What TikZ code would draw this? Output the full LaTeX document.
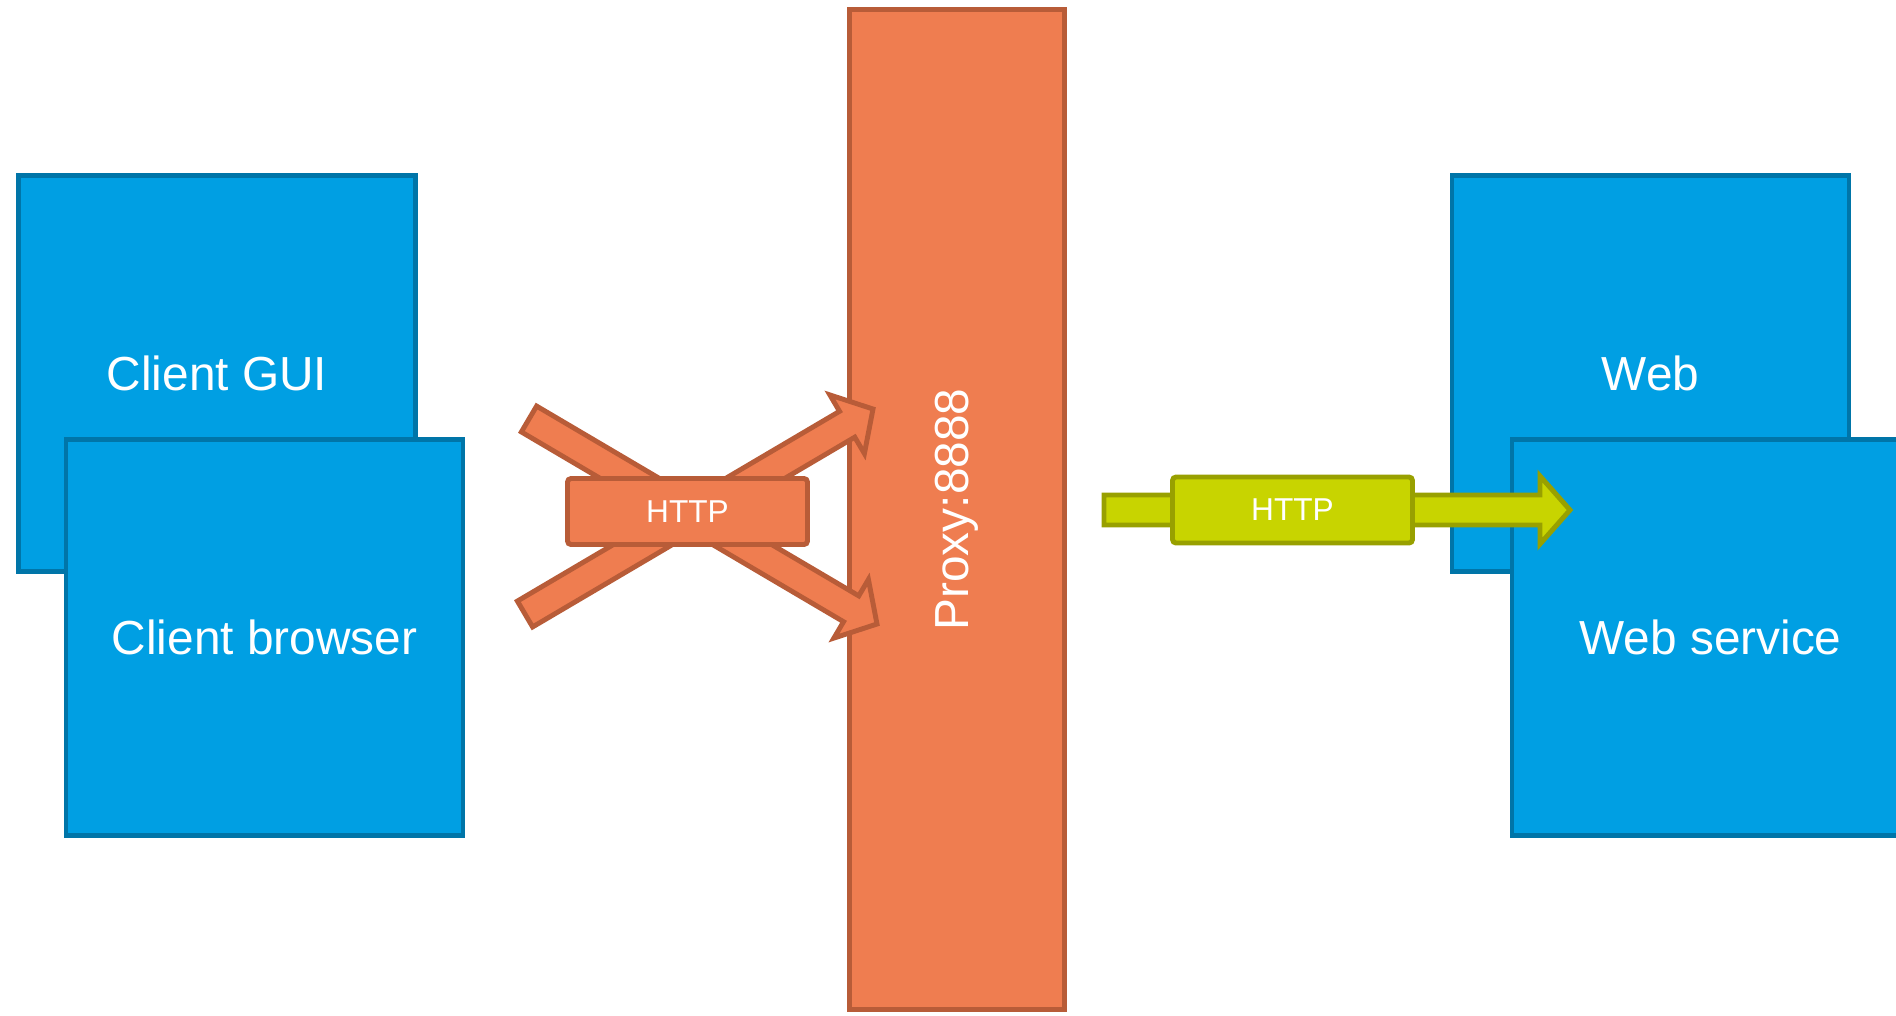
\documentclass[tikz,border=0pt]{standalone}
\usepackage{fontspec}
\setmainfont{Liberation Sans}
\usetikzlibrary{calc}
\definecolor{hostfill}{RGB}{0,159,227}
\definecolor{hostline}{RGB}{0,117,168}
\definecolor{proxyfill}{RGB}{239,125,80}
\definecolor{proxyline}{RGB}{184,92,56}
\definecolor{wirefill}{RGB}{200,212,0}
\definecolor{wireline}{RGB}{152,160,0}
\tikzset{host/.style={draw=hostline,fill=hostfill,line width=1.4pt,minimum width=3.97cm,minimum height=3.96cm,inner sep=0pt,text=white,font=\fontsize{13.6}{16}\selectfont},
	proxy box/.style={draw=proxyline,fill=proxyfill,line width=1.4pt,inner sep=0pt,text=white,font=\fontsize{13.6}{16}\selectfont},
	wire label/.style={line width=1.4pt,rounded corners=1pt,minimum width=2.4cm,minimum height=0.66cm,inner sep=0pt,text=white,font=\fontsize{9}{11}\selectfont},
	orange arrow/.style={draw=proxyline,fill=proxyfill,line width=1.4pt},
	green arrow/.style={draw=wireline,fill=wirefill,line width=1.4pt}}

% block arrow: style, tail, tip
\newcommand\blockarrow[3]{%
	\coordinate (h) at ($(#3)!\headl!(#2)$);
	\draw[#1] ($(#2)!\shaftw!90:(#3)$) -- ($(h)!\shaftw!90:(#3)$) -- ($(h)!\headw!90:(#3)$) -- (#3)
		-- ($(h)!\headw!-90:(#3)$) -- ($(h)!\shaftw!-90:(#3)$) -- ($(#2)!\shaftw!-90:(#3)$) -- cycle;
}

\begin{document}
\begin{tikzpicture}
			\def\shaftw{0.15cm}
			\def\headw{0.34cm}
			\def\headl{0.3cm}
			\useasboundingbox (0,0) rectangle (18.96,-10.15);
			% clients
			\node[host] (gui) at (2.17,-3.735) {Client GUI};
			\node[host] (browser) at (2.645,-6.375) {Client browser};
			% servers
			\node[host] (web) at (16.505,-3.735) {Web};
			\node[host] (websvc) at (17.105,-6.375) {Web service};
			% proxy
			\node[proxy box,rotate=90,minimum width=10cm,minimum height=2.15cm] (proxy) at (9.57,-5.095) {Proxy:8888};
			% arrow ends
			\coordinate (A) at (5.25,-6.14);
			\coordinate (B) at (8.73,-4.09);
			\coordinate (C) at (5.29,-4.19);
			\coordinate (D) at (8.77,-6.24);
			\coordinate (E) at ($(proxy.south)+(0.37,-0.005)$);
			\coordinate (F) at (15.70,-5.10);
			\blockarrow{orange arrow}{A}{B}
			\blockarrow{orange arrow}{C}{D}
			\blockarrow{green arrow}{E}{F}
			\node[wire label,draw=proxyline,fill=proxyfill] (in) at (6.875,-5.115) {HTTP};
			\node[wire label,draw=wireline,fill=wirefill] (out) at (12.925,-5.10) {HTTP};
		\end{tikzpicture}
\end{document}
